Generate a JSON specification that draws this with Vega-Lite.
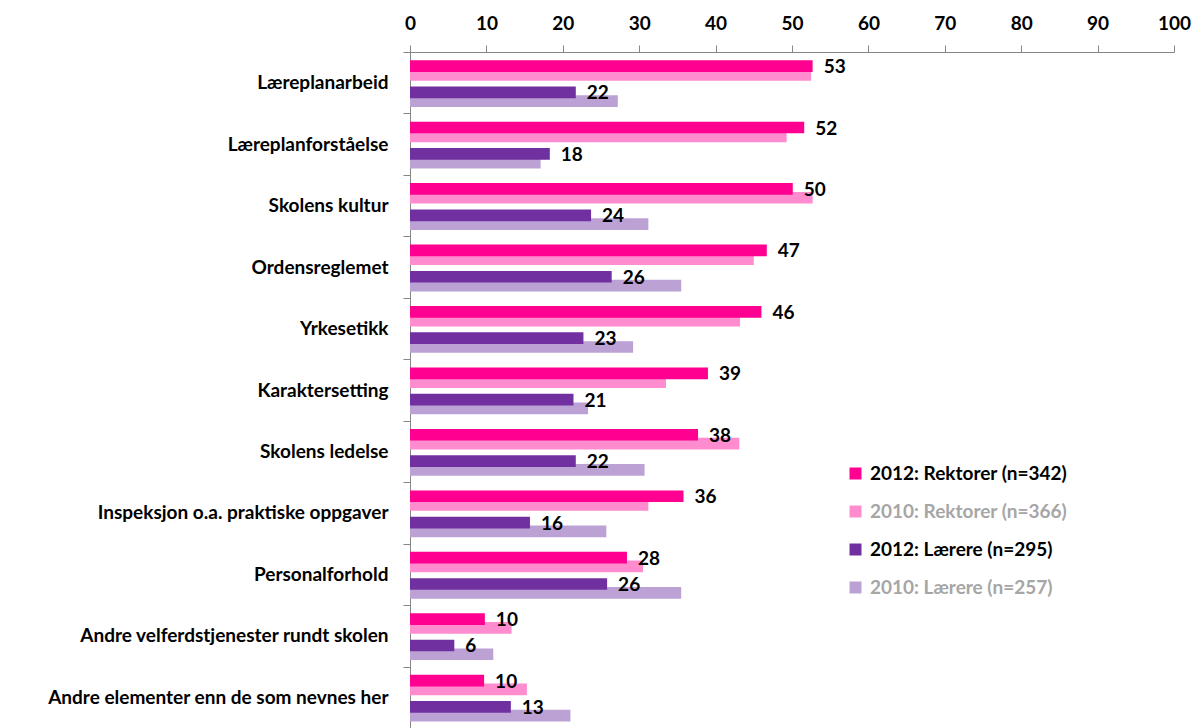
{
  "$schema": "https://vega.github.io/schema/vega-lite/v6.json",
  "width": 764,
  "height": 676,
  "autosize": {"type": "none"},
  "padding": {"left": 410, "top": 52, "right": 25, "bottom": 0},
  "background": "white",
  "config": {"view": {"stroke": null}, "font": "Lato"},
  "data": {
    "values": [
      {"kategori": "Læreplanarbeid", "gruppe": "2010: Rektorer (n=366)", "aar": 2010, "verdi": 52.5},
      {"kategori": "Læreplanarbeid", "gruppe": "2010: Lærere (n=257)", "aar": 2010, "verdi": 27.2},
      {"kategori": "Læreplanforståelse", "gruppe": "2010: Rektorer (n=366)", "aar": 2010, "verdi": 49.3},
      {"kategori": "Læreplanforståelse", "gruppe": "2010: Lærere (n=257)", "aar": 2010, "verdi": 17.1},
      {"kategori": "Skolens kultur", "gruppe": "2010: Rektorer (n=366)", "aar": 2010, "verdi": 52.7},
      {"kategori": "Skolens kultur", "gruppe": "2010: Lærere (n=257)", "aar": 2010, "verdi": 31.2},
      {"kategori": "Ordensreglemet", "gruppe": "2010: Rektorer (n=366)", "aar": 2010, "verdi": 45.0},
      {"kategori": "Ordensreglemet", "gruppe": "2010: Lærere (n=257)", "aar": 2010, "verdi": 35.5},
      {"kategori": "Yrkesetikk", "gruppe": "2010: Rektorer (n=366)", "aar": 2010, "verdi": 43.2},
      {"kategori": "Yrkesetikk", "gruppe": "2010: Lærere (n=257)", "aar": 2010, "verdi": 29.2},
      {"kategori": "Karaktersetting", "gruppe": "2010: Rektorer (n=366)", "aar": 2010, "verdi": 33.5},
      {"kategori": "Karaktersetting", "gruppe": "2010: Lærere (n=257)", "aar": 2010, "verdi": 23.3},
      {"kategori": "Skolens ledelse", "gruppe": "2010: Rektorer (n=366)", "aar": 2010, "verdi": 43.1},
      {"kategori": "Skolens ledelse", "gruppe": "2010: Lærere (n=257)", "aar": 2010, "verdi": 30.7},
      {"kategori": "Inspeksjon o.a. praktiske oppgaver", "gruppe": "2010: Rektorer (n=366)", "aar": 2010, "verdi": 31.2},
      {"kategori": "Inspeksjon o.a. praktiske oppgaver", "gruppe": "2010: Lærere (n=257)", "aar": 2010, "verdi": 25.7},
      {"kategori": "Personalforhold", "gruppe": "2010: Rektorer (n=366)", "aar": 2010, "verdi": 30.5},
      {"kategori": "Personalforhold", "gruppe": "2010: Lærere (n=257)", "aar": 2010, "verdi": 35.5},
      {"kategori": "Andre velferdstjenester rundt skolen", "gruppe": "2010: Rektorer (n=366)", "aar": 2010, "verdi": 13.3},
      {"kategori": "Andre velferdstjenester rundt skolen", "gruppe": "2010: Lærere (n=257)", "aar": 2010, "verdi": 10.9},
      {"kategori": "Andre elementer enn de som nevnes her", "gruppe": "2010: Rektorer (n=366)", "aar": 2010, "verdi": 15.3},
      {"kategori": "Andre elementer enn de som nevnes her", "gruppe": "2010: Lærere (n=257)", "aar": 2010, "verdi": 21.0},
      {"kategori": "Læreplanarbeid", "gruppe": "2012: Rektorer (n=342)", "aar": 2012, "verdi": 52.7},
      {"kategori": "Læreplanarbeid", "gruppe": "2012: Lærere (n=295)", "aar": 2012, "verdi": 21.7},
      {"kategori": "Læreplanforståelse", "gruppe": "2012: Rektorer (n=342)", "aar": 2012, "verdi": 51.6},
      {"kategori": "Læreplanforståelse", "gruppe": "2012: Lærere (n=295)", "aar": 2012, "verdi": 18.3},
      {"kategori": "Skolens kultur", "gruppe": "2012: Rektorer (n=342)", "aar": 2012, "verdi": 50.1},
      {"kategori": "Skolens kultur", "gruppe": "2012: Lærere (n=295)", "aar": 2012, "verdi": 23.7},
      {"kategori": "Ordensreglemet", "gruppe": "2012: Rektorer (n=342)", "aar": 2012, "verdi": 46.7},
      {"kategori": "Ordensreglemet", "gruppe": "2012: Lærere (n=295)", "aar": 2012, "verdi": 26.4},
      {"kategori": "Yrkesetikk", "gruppe": "2012: Rektorer (n=342)", "aar": 2012, "verdi": 46.0},
      {"kategori": "Yrkesetikk", "gruppe": "2012: Lærere (n=295)", "aar": 2012, "verdi": 22.7},
      {"kategori": "Karaktersetting", "gruppe": "2012: Rektorer (n=342)", "aar": 2012, "verdi": 39.0},
      {"kategori": "Karaktersetting", "gruppe": "2012: Lærere (n=295)", "aar": 2012, "verdi": 21.4},
      {"kategori": "Skolens ledelse", "gruppe": "2012: Rektorer (n=342)", "aar": 2012, "verdi": 37.7},
      {"kategori": "Skolens ledelse", "gruppe": "2012: Lærere (n=295)", "aar": 2012, "verdi": 21.7},
      {"kategori": "Inspeksjon o.a. praktiske oppgaver", "gruppe": "2012: Rektorer (n=342)", "aar": 2012, "verdi": 35.8},
      {"kategori": "Inspeksjon o.a. praktiske oppgaver", "gruppe": "2012: Lærere (n=295)", "aar": 2012, "verdi": 15.7},
      {"kategori": "Personalforhold", "gruppe": "2012: Rektorer (n=342)", "aar": 2012, "verdi": 28.4},
      {"kategori": "Personalforhold", "gruppe": "2012: Lærere (n=295)", "aar": 2012, "verdi": 25.8},
      {"kategori": "Andre velferdstjenester rundt skolen", "gruppe": "2012: Rektorer (n=342)", "aar": 2012, "verdi": 9.8},
      {"kategori": "Andre velferdstjenester rundt skolen", "gruppe": "2012: Lærere (n=295)", "aar": 2012, "verdi": 5.8},
      {"kategori": "Andre elementer enn de som nevnes her", "gruppe": "2012: Rektorer (n=342)", "aar": 2012, "verdi": 9.7},
      {"kategori": "Andre elementer enn de som nevnes her", "gruppe": "2012: Lærere (n=295)", "aar": 2012, "verdi": 13.2}
    ]
  },
  "encoding": {
    "y": {
      "field": "kategori",
      "type": "nominal",
      "sort": ["Læreplanarbeid", "Læreplanforståelse", "Skolens kultur", "Ordensreglemet", "Yrkesetikk", "Karaktersetting", "Skolens ledelse", "Inspeksjon o.a. praktiske oppgaver", "Personalforhold", "Andre velferdstjenester rundt skolen", "Andre elementer enn de som nevnes her"],
      "scale": {"paddingInner": 0, "paddingOuter": 0},
      "axis": {
        "title": null,
        "labelFontSize": 19,
        "labelFont": "Lato",
        "labelFontWeight": "bold",
        "labelColor": "#000000",
        "labelPadding": 15,
        "labelLimit": 400,
        "tickSize": 7,
        "tickBand": "extent",
        "tickColor": "#868686",
        "domainColor": "#868686"
      }
    },
    "x": {
      "field": "verdi",
      "type": "quantitative",
      "scale": {"domain": [0, 100], "nice": false},
      "axis": {
        "orient": "top",
        "title": null,
        "grid": false,
        "values": [0, 10, 20, 30, 40, 50, 60, 70, 80, 90, 100],
        "labelFontSize": 19,
        "labelFont": "Lato",
        "labelFontWeight": "bold",
        "labelColor": "#000000",
        "labelFlush": false,
        "labelPadding": 12,
        "tickSize": 7,
        "tickColor": "#868686",
        "domainColor": "#868686"
      }
    },
    "yOffset": {
      "field": "gruppe",
      "type": "nominal",
      "scale": {
        "domain": ["2012: Rektorer (n=342)", "2010: Rektorer (n=366)", "_", "2012: Lærere (n=295)", "2010: Lærere (n=257)"],
        "paddingInner": 0,
        "paddingOuter": 1.238,
        "align": 0.55
      }
    }
  },
  "layer": [
    {
      "mark": {"type": "bar", "height": 11.7},
      "encoding": {
        "color": {
          "field": "gruppe",
          "type": "nominal",
          "scale": {
            "domain": ["2012: Rektorer (n=342)", "2010: Rektorer (n=366)", "2012: Lærere (n=295)", "2010: Lærere (n=257)"],
            "range": ["#FF0090", "#FF8CCF", "#7030A0", "#BCA2D4"]
          },
          "legend": {
            "orient": "none",
            "legendX": 436,
            "legendY": 412,
            "title": null,
            "symbolType": "square",
            "symbolSize": 144,
            "symbolStrokeWidth": 0,
            "symbolOpacity": 1,
            "labelFontSize": 19,
            "labelFont": "Lato",
            "labelFontWeight": "bold",
            "labelOffset": 5,
            "labelLimit": 400,
            "rowPadding": 18,
            "encode": {
              "labels": {
                "update": {
                  "fill": {"signal": "test(/^2010/, datum.label) ? '#A6A6A6' : '#000000'"}
                }
              }
            }
          }
        }
      }
    },
    {
      "transform": [{"filter": "datum.aar == 2012"}],
      "mark": {"type": "text", "align": "left", "baseline": "middle", "dx": 11, "dy": 1, "fontSize": 19, "font": "Lato", "fontWeight": "bold", "color": "#000000"},
      "encoding": {
        "text": {"field": "verdi", "type": "quantitative", "format": ".0f"}
      }
    }
  ]
}
